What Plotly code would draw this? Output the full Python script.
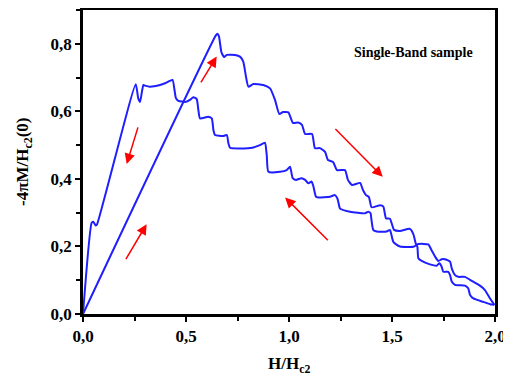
import plotly.graph_objects as go

# Forward branch (increasing H)
fwd_x = [0, 0.645, 0.653, 0.660, 0.672, 0.685, 0.698, 0.738, 0.762, 0.778, 0.791, 0.803, 0.827, 0.875,
         0.908, 0.932, 0.953, 0.971, 0.997, 1.019, 1.044, 1.063, 1.078, 1.112, 1.126, 1.150, 1.175,
         1.189, 1.214, 1.233, 1.272, 1.286, 1.306, 1.345, 1.359, 1.374, 1.388, 1.401, 1.442, 1.458,
         1.471, 1.490, 1.510, 1.539, 1.587, 1.604, 1.615, 1.623, 1.628, 1.644, 1.684, 1.717, 1.730,
         1.741, 1.749, 1.773, 1.782, 1.790, 1.806, 1.854, 1.870, 1.879, 1.895, 1.943, 1.976, 1.997]
fwd_y = [0, 0.825, 0.830, 0.822, 0.775, 0.761, 0.767, 0.767, 0.762, 0.747, 0.703, 0.673, 0.681, 0.678,
         0.668, 0.634, 0.592, 0.598, 0.597, 0.566, 0.567, 0.560, 0.533, 0.533, 0.491, 0.491, 0.480,
         0.456, 0.450, 0.426, 0.426, 0.397, 0.382, 0.388, 0.367, 0.352, 0.346, 0.316, 0.322, 0.318,
         0.283, 0.282, 0.249, 0.246, 0.252, 0.236, 0.209, 0.200, 0.165, 0.157, 0.147, 0.143, 0.150,
         0.140, 0.125, 0.125, 0.115, 0.096, 0.086, 0.084, 0.076, 0.056, 0.046, 0.036, 0.029, 0.027]

# Return branch (decreasing H)
ret_x = [1.997, 1.976, 1.951, 1.927, 1.879, 1.854, 1.822, 1.806, 1.790, 1.782, 1.757, 1.741, 1.725,
         1.709, 1.692, 1.676, 1.628, 1.604, 1.539, 1.520, 1.506, 1.495, 1.490, 1.474, 1.426, 1.409,
         1.400, 1.396, 1.385, 1.369, 1.296, 1.248, 1.240, 1.235, 1.223, 1.199, 1.142, 1.131, 1.118,
         1.110, 1.094, 1.078, 1.061, 1.034, 1.018, 1.005, 0.989, 0.956, 0.900, 0.892, 0.883, 0.859,
         0.827, 0.762, 0.714, 0.706, 0.698, 0.681, 0.641, 0.633, 0.625, 0.608, 0.568, 0.560, 0.552,
         0.536, 0.519, 0.500, 0.463, 0.451, 0.435, 0.422, 0.398, 0.374, 0.325, 0.301, 0.293, 0.277,
         0.268, 0.256, 0.068, 0.062, 0.050, 0.042, 0]
ret_y = [0.027, 0.046, 0.071, 0.084, 0.101, 0.110, 0.110, 0.115, 0.135, 0.155, 0.162, 0.162, 0.157,
         0.170, 0.189, 0.206, 0.207, 0.199, 0.200, 0.206, 0.214, 0.240, 0.249, 0.244, 0.244, 0.249,
         0.280, 0.298, 0.303, 0.298, 0.303, 0.312, 0.330, 0.342, 0.352, 0.347, 0.345, 0.347, 0.379,
         0.392, 0.387, 0.397, 0.402, 0.397, 0.402, 0.436, 0.426, 0.421, 0.421, 0.470, 0.507, 0.500,
         0.493, 0.490, 0.492, 0.505, 0.530, 0.527, 0.530, 0.545, 0.579, 0.584, 0.579, 0.604, 0.636,
         0.642, 0.634, 0.628, 0.631, 0.639, 0.693, 0.690, 0.683, 0.678, 0.673, 0.676, 0.678, 0.628,
         0.639, 0.680, 0.265, 0.262, 0.273, 0.270, 0]

# Red arrows: (tail_x, tail_y, head_x, head_y)
arrow_tail_x = [0.204, 0.269, 0.568, 1.218, 1.196]
arrow_tail_y = [0.158, 0.557, 0.681, 0.552, 0.214]
arrow_head_x = [0.309, 0.212, 0.649, 1.455, 0.981]
arrow_head_y = [0.266, 0.444, 0.762, 0.406, 0.345]

x_tick_vals = [0, 0.5, 1.0, 1.5, 2.0]
x_tick_text = ["0,0", "0,5", "1,0", "1,5", "2,0"]
y_tick_vals = [0, 0.2, 0.4, 0.6, 0.8]
y_tick_text = ["0,0", "0,2", "0,4", "0,6", "0,8"]

blue = "rgb(30,30,255)"
serif = "Liberation Serif"
title_font = dict(family=serif, size=17, color="black", weight="bold")

fig = go.Figure()
fig.add_trace(go.Scatter(x=fwd_x, y=fwd_y, mode="lines",
                         line=dict(color=blue, width=2, shape="spline", smoothing=0.5),
                         showlegend=False, hoverinfo="skip"))
fig.add_trace(go.Scatter(x=ret_x, y=ret_y, mode="lines",
                         line=dict(color=blue, width=2, shape="spline", smoothing=0.5),
                         showlegend=False, hoverinfo="skip"))

for tx, ty, hx, hy in zip(arrow_tail_x, arrow_tail_y, arrow_head_x, arrow_head_y):
    fig.add_annotation(x=hx, y=hy, ax=tx, ay=ty, xref="x", yref="y", axref="x", ayref="y",
                       showarrow=True, arrowhead=2, arrowsize=1.4, arrowwidth=1.5,
                       arrowcolor="red", text="")

fig.add_annotation(x=1.604, y=0.773, xref="x", yref="y", text="Single-Band sample",
                   showarrow=False, font=dict(family=serif, size=14, color="black", weight="bold"))

# Axis titles as annotations for precise placement
fig.add_annotation(x=0.5, y=0, xref="paper", yref="paper", text="H/H<sub>c2</sub>",
                   showarrow=False, xanchor="center", yanchor="top", yshift=-38, font=title_font)
fig.add_annotation(x=0, y=0.5, xref="paper", yref="paper", text="-4πM/H<sub>c2</sub>(0)",
                   showarrow=False, textangle=-90, xanchor="center", yanchor="middle",
                   xshift=-59, font=title_font)

axis_common = dict(showgrid=False, zeroline=False, showline=True, linecolor="black",
                   linewidth=2.5, mirror=True, ticks="outside", ticklen=5, tickwidth=1.5,
                   tickcolor="black", automargin=False,
                   tickfont=dict(family=serif, size=17, color="black", weight="bold"))

fig.update_xaxes(range=[0, 2.0], tickvals=x_tick_vals, ticktext=x_tick_text,
                 minor=dict(ticks="outside", ticklen=4, tickwidth=1.5, tickcolor="black", dtick=0.25, tick0=0),
                 **axis_common)
fig.update_yaxes(range=[0, 0.9], tickvals=y_tick_vals, ticktext=y_tick_text,
                 minor=dict(ticks="outside", ticklen=4, tickwidth=1.5, tickcolor="black", dtick=0.1, tick0=0),
                 **axis_common)

fig.update_layout(width=503, height=367, margin=dict(l=75, r=16, t=2, b=61),
                  plot_bgcolor="white", paper_bgcolor="white")

fig.write_html("out.html")
